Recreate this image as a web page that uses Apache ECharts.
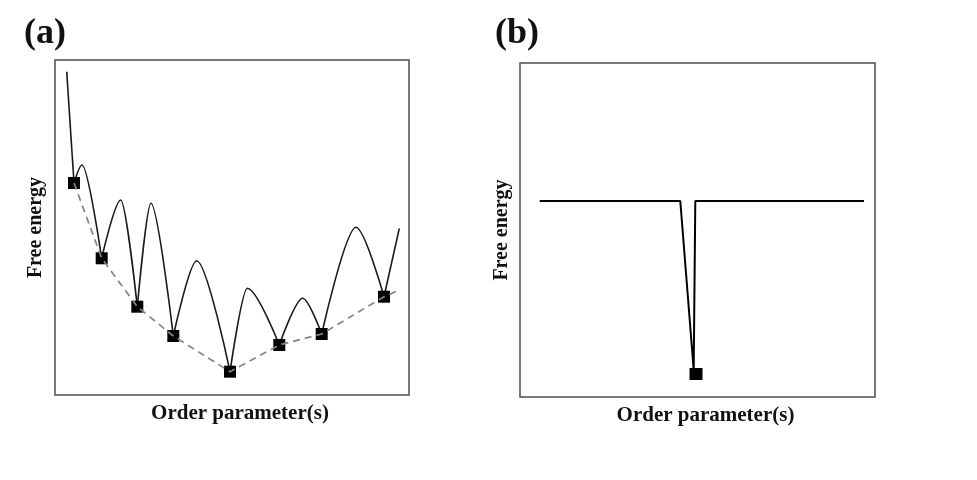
<!DOCTYPE html>
<html>
<head>
<meta charset="utf-8">
<script src="https://cdn.jsdelivr.net/npm/echarts@6/dist/echarts.min.js"></script>
<style>
html,body{margin:0;padding:0;background:#fff;}
#chart{width:977px;height:480px;}
</style>
</head>
<body>
<div id="chart"></div>
<script>
// ---- Panel (a): rugged landscape (arbitrary units, 0-100) ----
const minimaX = [5.37, 13.19, 23.25, 33.42, 49.44, 63.36, 75.34, 92.94];
const minimaY = [63.28, 40.81, 26.36, 17.61, 6.96, 14.93, 18.21, 29.34];
const peakX = [7.63, 18.56, 27.09, 40.03, 54.32, 69.97, 85.03];
const peakY = [68.66, 58.21, 57.22, 40.09, 31.85, 28.87, 50.06];
const curveStart = [3.31, 96.51];
const curveEnd = [97.26, 49.76];
const trendEnd = [97.26, 31.34];

// ---- Panel (b): single funnel well ----
const wellX = [5.55, 45.15, 48.93, 49.38, 96.90];
const wellY = [58.68, 58.68, 8.08, 58.68, 58.68];
const wellMinX = [49.58];
const wellMinY = [6.89];

// text
const panelTitles = ['(a)', '(b)'];
const xName = 'Order parameter(s)';
const yName = 'Free energy';

const FONT = "'Liberation Serif', 'DejaVu Serif', serif";
const CURVE = '#1a1a1a';

const series = [];
// start segment
series.push({type:'line', xAxisIndex:0, yAxisIndex:0, data:[curveStart, [minimaX[0], minimaY[0]]],
  symbol:'none', lineStyle:{color:CURVE, width:1.6}, z:2, silent:true});
// barriers between consecutive minima
for (let i = 0; i < peakX.length; i++) {
  series.push({type:'line', xAxisIndex:0, yAxisIndex:0, smooth:0.3, smoothMonotone:'x',
    data:[[minimaX[i], minimaY[i]], [peakX[i], peakY[i]], [minimaX[i+1], minimaY[i+1]]],
    symbol:'none', lineStyle:{color:CURVE, width:1.6}, z:2, silent:true});
}
// end segment
series.push({type:'line', xAxisIndex:0, yAxisIndex:0,
  data:[[minimaX[minimaX.length-1], minimaY[minimaY.length-1]], curveEnd],
  symbol:'none', lineStyle:{color:CURVE, width:1.6}, z:2, silent:true});
// minima squares
series.push({type:'scatter', xAxisIndex:0, yAxisIndex:0,
  data:minimaX.map((x,i)=>[x, minimaY[i]]), symbol:'rect', symbolSize:12,
  itemStyle:{color:'#000', opacity:1}, z:3, silent:true});
// dashed envelope
series.push({type:'line', xAxisIndex:0, yAxisIndex:0,
  data:minimaX.map((x,i)=>[x, minimaY[i]]).concat([trendEnd]),
  symbol:'none', lineStyle:{color:'#858585', width:1.7, type:[7,5]}, z:4, silent:true});

// panel b
series.push({type:'line', xAxisIndex:1, yAxisIndex:1,
  data:wellX.map((x,i)=>[x, wellY[i]]), symbol:'none',
  lineStyle:{color:'#000', width:2}, z:2, silent:true});
series.push({type:'scatter', xAxisIndex:1, yAxisIndex:1,
  data:wellMinX.map((x,i)=>[x, wellMinY[i]]), symbol:'rect', symbolSize:[13,12],
  itemStyle:{color:'#000', opacity:1}, z:3, silent:true});

function xAxisDef(idx){
  return {type:'value', gridIndex:idx, min:0, max:100,
    name:xName, nameLocation:'middle', nameGap:8,
    nameTextStyle:{fontFamily:FONT, fontWeight:'bold', fontSize:21, color:'#111', padding:[0,0,0,16]},
    axisLine:{show:false}, axisTick:{show:false}, axisLabel:{show:false}, splitLine:{show:false}};
}
function yAxisDef(idx, gap){
  return {type:'value', gridIndex:idx, min:0, max:100,
    name:yName, nameLocation:'middle', nameGap:gap,
    nameTextStyle:{fontFamily:FONT, fontWeight:'bold', fontSize:20, color:'#111'},
    axisLine:{show:false}, axisTick:{show:false}, axisLabel:{show:false}, splitLine:{show:false}};
}

const option = {
  backgroundColor:'#fff',
  animation:false,
  title:[
    {text:panelTitles[0], left:19, top:11, textStyle:{fontFamily:FONT, fontWeight:'bold', fontSize:36, color:'#111'}},
    {text:panelTitles[1], left:490, top:11, textStyle:{fontFamily:FONT, fontWeight:'bold', fontSize:36, color:'#111'}}
  ],
  grid:[
    {left:55, top:60, width:354, height:335, show:true, borderColor:'#4d4d4d', borderWidth:1.5, backgroundColor:'transparent'},
    {left:520, top:63, width:355, height:334, show:true, borderColor:'#4d4d4d', borderWidth:1.5, backgroundColor:'transparent'}
  ],
  xAxis:[xAxisDef(0), xAxisDef(1)],
  yAxis:[yAxisDef(0, 9), yAxisDef(1, 8)],
  series:series
};

const chart = echarts.init(document.getElementById('chart'), null, {renderer:'canvas'});
chart.setOption(option);
</script>
</body>
</html>
